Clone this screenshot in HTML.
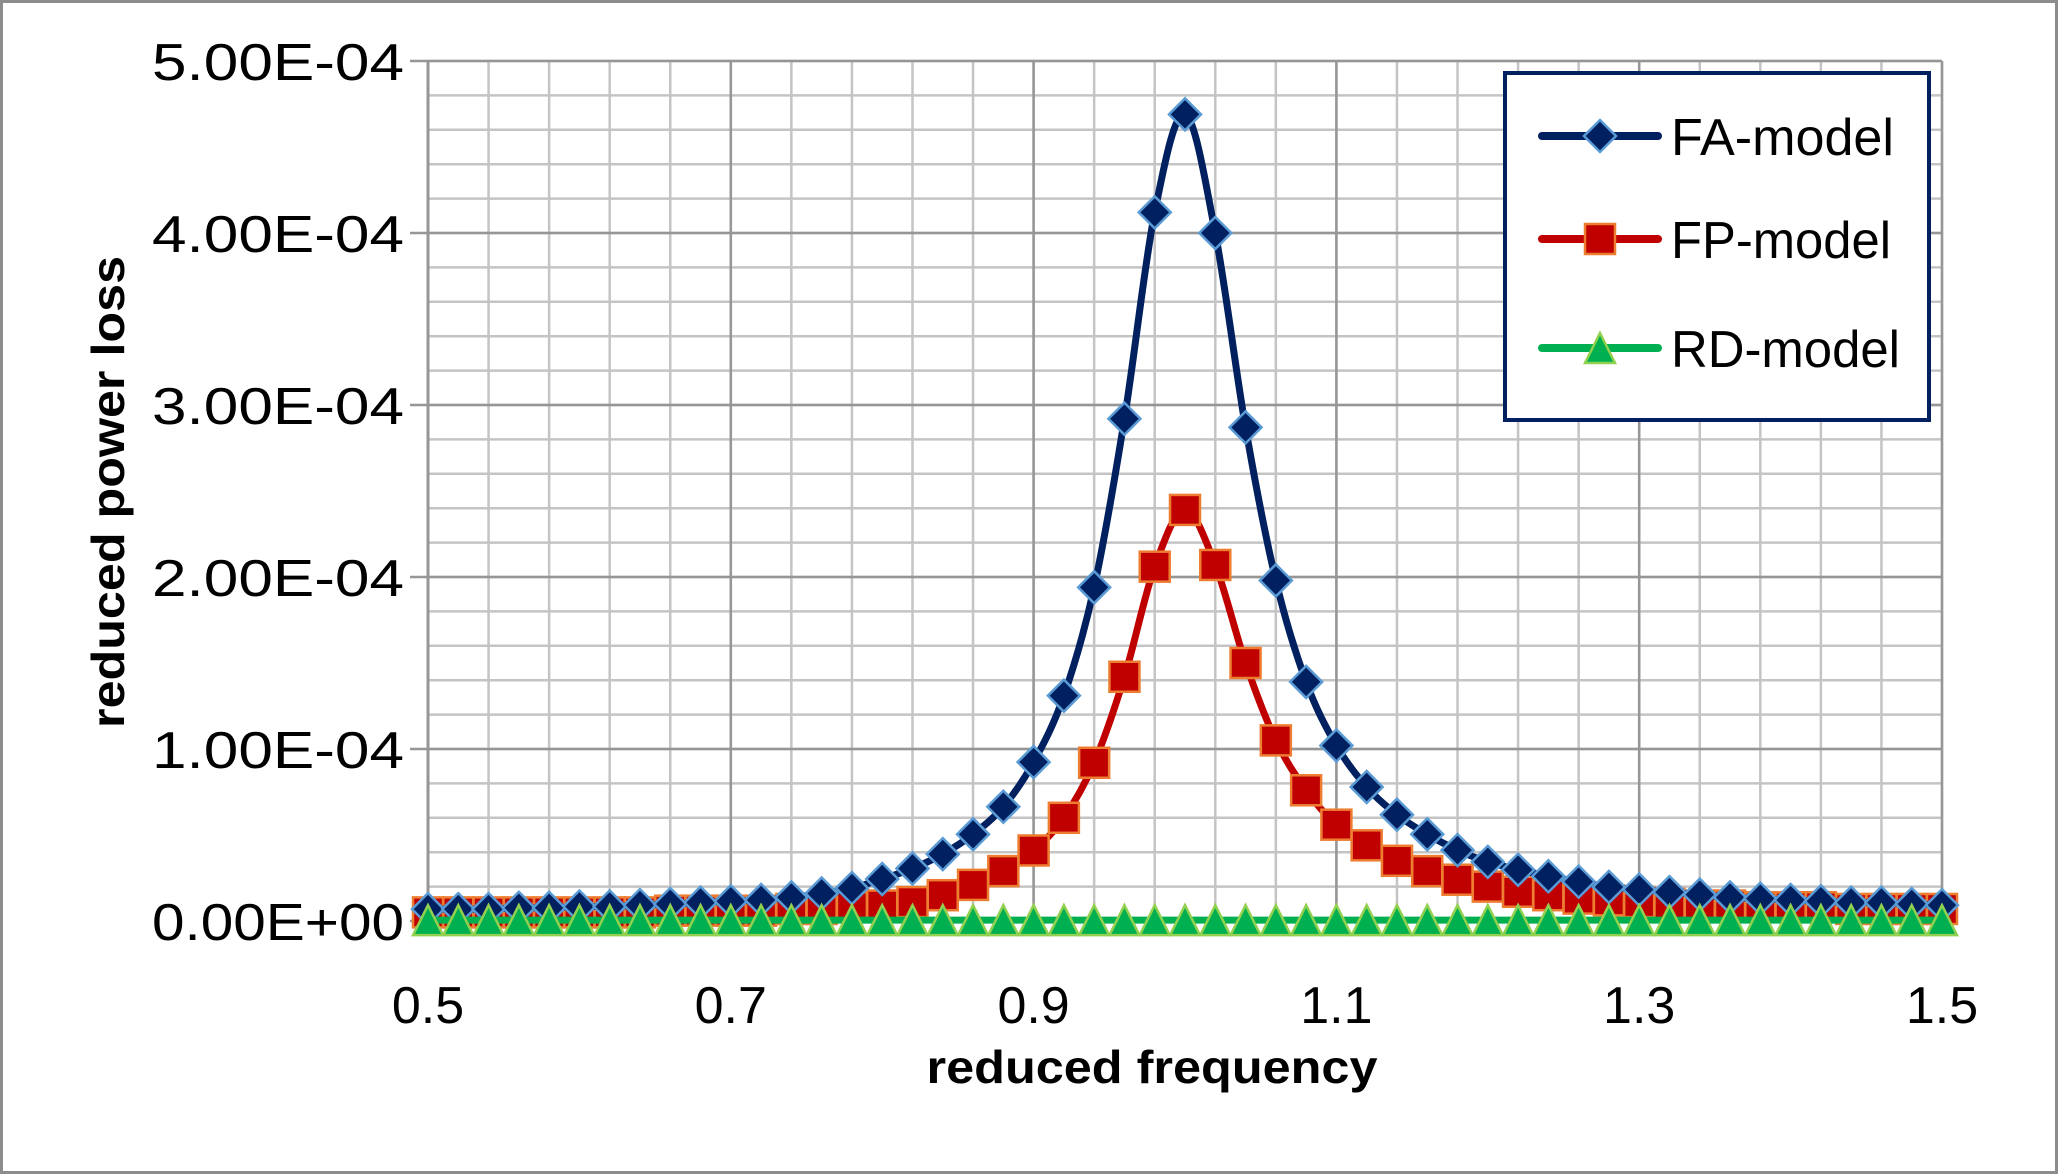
<!DOCTYPE html>
<html><head><meta charset="utf-8">
<style>
html,body{margin:0;padding:0;background:#fff;}
svg{display:block;font-family:"Liberation Sans",sans-serif;}
</style></head>
<body>
<svg id="chart" width="2058" height="1174" viewBox="0 0 2058 1174" xmlns="http://www.w3.org/2000/svg">
<rect x="1.5" y="1.5" width="2055" height="1171" fill="#fff" stroke="#8c8c8c" stroke-width="3"/>
<g id="grid"></g>
<g id="series"></g>
<g id="axes"></g>
<text x="1152" y="1083" font-size="46" font-weight="bold" text-anchor="middle" textLength="451" lengthAdjust="spacingAndGlyphs">reduced frequency</text>
<text transform="translate(124,492) rotate(-90)" font-size="46" font-weight="bold" text-anchor="middle" textLength="472" lengthAdjust="spacingAndGlyphs">reduced power loss</text>
<g>
<rect x="1505" y="73" width="424" height="347" fill="#fff" stroke="#002060" stroke-width="4"/>
<g>
<line x1="1542" y1="136" x2="1658" y2="136" stroke="#002060" stroke-width="8" stroke-linecap="round"/>
<polygon points="1600,120 1616,136 1600,152 1584,136" fill="#002060" stroke="#5b9bd5" stroke-width="2.5"/>
<text x="1671" y="155" font-size="52" textLength="223" lengthAdjust="spacingAndGlyphs">FA-model</text></g>
<g>
<line x1="1542" y1="239" x2="1658" y2="239" stroke="#c00000" stroke-width="8" stroke-linecap="round"/>
<rect x="1585" y="224" width="30" height="30" fill="#c00000" stroke="#ed7d31" stroke-width="2.5"/>
<text x="1671" y="258" font-size="52" textLength="220" lengthAdjust="spacingAndGlyphs">FP-model</text></g>
<g>
<line x1="1542" y1="348" x2="1658" y2="348" stroke="#00b050" stroke-width="8" stroke-linecap="round"/>
<polygon points="1600,333 1615,363 1585,363" fill="#00b050" stroke="#92d050" stroke-width="2.5"/>
<text x="1671" y="367" font-size="52" textLength="229" lengthAdjust="spacingAndGlyphs">RD-model</text></g>
</g>
</svg>
<script>
const xStart = 0.5, xStep = 0.02;
const faValues = [0.069,0.069,0.069,0.076,0.076,0.084,0.084,0.092,0.099,0.107,0.115,0.122,0.137,0.160,0.191,0.244,0.305,0.389,0.504,0.664,0.924,1.31,1.94,2.92,4.12,4.69,4.00,2.87,1.98,1.39,1.02,0.779,0.618,0.504,0.412,0.344,0.298,0.260,0.229,0.198,0.183,0.168,0.153,0.137,0.130,0.122,0.115,0.107,0.107,0.099,0.092];
const fpValues = [0.05,0.05,0.05,0.05,0.05,0.05,0.05,0.05,0.06,0.06,0.06,0.06,0.07,0.07,0.08,0.09,0.11,0.15,0.21,0.29,0.41,0.60,0.92,1.42,2.06,2.39,2.07,1.50,1.05,0.76,0.56,0.44,0.35,0.29,0.24,0.20,0.17,0.15,0.13,0.12,0.11,0.10,0.09,0.09,0.08,0.08,0.08,0.07,0.07,0.07,0.07];
const rdValues = [0.005,0.005,0.005,0.005,0.005,0.005,0.005,0.005,0.005,0.005,0.005,0.005,0.005,0.005,0.005,0.005,0.005,0.005,0.005,0.005,0.005,0.005,0.005,0.005,0.005,0.005,0.005,0.005,0.005,0.005,0.005,0.005,0.005,0.005,0.005,0.005,0.005,0.005,0.005,0.005,0.005,0.005,0.005,0.005,0.005,0.005,0.005,0.005,0.005,0.005,0.005];
const valueScale = 1e-4;
const xTicks = [0.5,0.7,0.9,1.1,1.3,1.5];
const xTickLabels = ["0.5","0.7","0.9","1.1","1.3","1.5"];
const yTicks = [0,1e-4,2e-4,3e-4,4e-4,5e-4];
const yTickLabels = ["0.00E+00","1.00E-04","2.00E-04","3.00E-04","4.00E-04","5.00E-04"];

const L=428,R=1942,T=61,B=921;
const xMin=0.5,xMax=1.5,yMin=0,yMax=5e-4;
function xs(v){return L+(v-xMin)/(xMax-xMin)*(R-L);}
function ys(v){return B-(v-yMin)/(yMax-yMin)*(B-T);}
const NS="http://www.w3.org/2000/svg";
function mk(tag,attrs,parent){const e=document.createElementNS(NS,tag);for(const k in attrs)e.setAttribute(k,attrs[k]);parent.appendChild(e);return e;}
const grid=document.getElementById('grid'),axes=document.getElementById('axes'),ser=document.getElementById('series');
for(let i=0;i<=25;i++){const v=xMin+i*0.04;const x=xs(v);
 const ln=mk('line',{x1:x,y1:T,x2:x,y2:B,stroke:'#c4c4c4','stroke-width':2.5},grid);
 
 }
for(let i=0;i<=25;i++){const v=i*2e-5;const y=ys(v);
 const ln=mk('line',{x1:L,y1:y,x2:R,y2:y,stroke:'#c4c4c4','stroke-width':2.5},grid);
 
 }
xTicks.forEach((v,i)=>{const x=xs(v);
 const ln=mk('line',{x1:x,y1:T,x2:x,y2:B+8,stroke:'#969696','stroke-width':2.5},grid);
 
 
 const t=mk('text',{x:x,y:1023,'font-size':52,'text-anchor':'middle'},axes);t.textContent=xTickLabels[i];
 
 });
yTicks.forEach((v,i)=>{const y=ys(v);
 const ln=mk('line',{x1:L-18,y1:y,x2:R,y2:y,stroke:'#969696','stroke-width':2.5},grid);
 
 
 const t=mk('text',{x:404,y:y+19,'font-size':52,'text-anchor':'end',textLength:252,lengthAdjust:'spacingAndGlyphs'},axes);t.textContent=yTickLabels[i];
 
 });
const yAx=mk('line',{x1:L,y1:T,x2:L,y2:B,stroke:'#969696','stroke-width':3},grid);



function smoothPath(pts){let d=`M${pts[0][0]},${pts[0][1]}`;
 for(let i=0;i<pts.length-1;i++){const p0=pts[Math.max(0,i-1)],p1=pts[i],p2=pts[i+1],p3=pts[Math.min(pts.length-1,i+2)];
  const c1=[p1[0]+(p2[0]-p0[0])/6,p1[1]+(p2[1]-p0[1])/6],c2=[p2[0]-(p3[0]-p1[0])/6,p2[1]-(p3[1]-p1[1])/6];
  d+=` C${c1[0]},${c1[1]} ${c2[0]},${c2[1]} ${p2[0]},${p2[1]}`;}return d;}
function drawSeries(vals,name,color,fill,stroke,shape){
 const g=mk('g',{},ser);
 
 
 const pts=vals.map((v,i)=>[xs(xStart+i*xStep),ys(v*valueScale)]);
 const p=mk('path',{d:smoothPath(pts),fill:'none',stroke:color,'stroke-width':7,'stroke-linejoin':'round'},g);
 
 
 pts.forEach(([x,y])=>{let m;
  if(shape==='diamond')m=mk('polygon',{points:`${x},${y-16} ${x+16},${y} ${x},${y+16} ${x-16},${y}`},g);
  else if(shape==='square')m=mk('rect',{x:x-15,y:y-15,width:30,height:30},g);
  else m=mk('polygon',{points:`${x},${y-15} ${x+15},${y+15} ${x-15},${y+15}`},g);
  m.setAttribute('fill',fill);m.setAttribute('stroke',stroke);m.setAttribute('stroke-width',2.5);
  
  });}
drawSeries(fpValues,'fp-model','#c00000','#c00000','#ed7d31','square');
drawSeries(faValues,'fa-model','#002060','#002060','#5b9bd5','diamond');
drawSeries(rdValues,'rd-model','#00b050','#00b050','#92d050','triangle');
</script>
</body></html>
